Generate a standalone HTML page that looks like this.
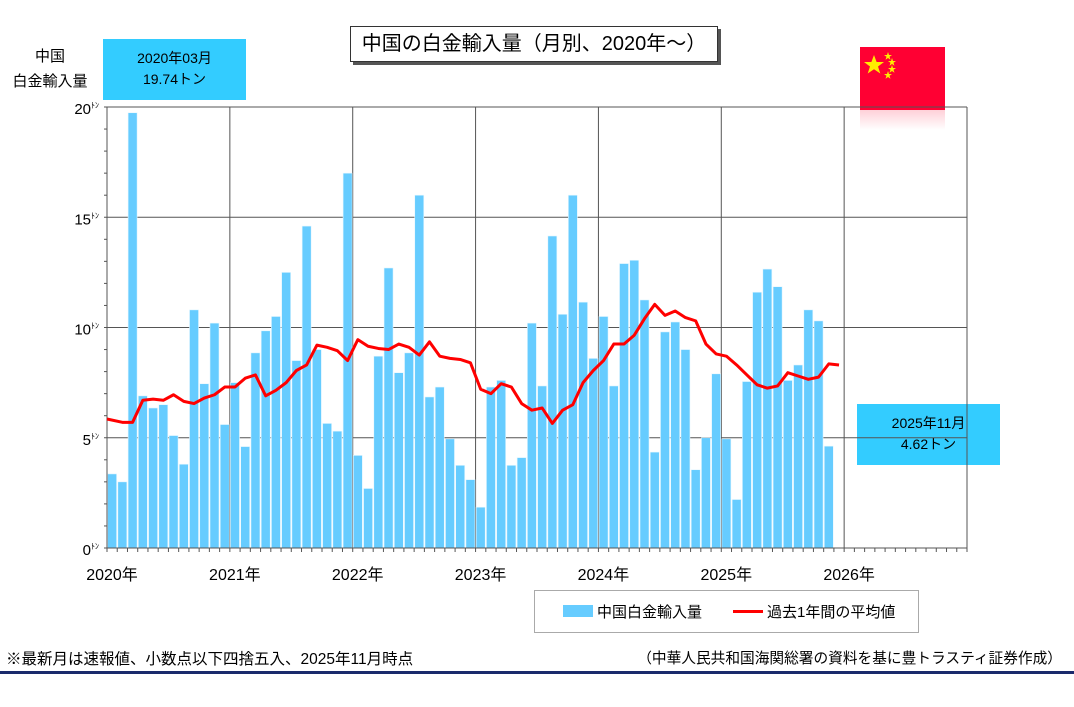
<!DOCTYPE html>
<html><head><meta charset="utf-8"><style>
body{margin:0;background:#fff;font-family:"Liberation Sans","Noto Sans CJK JP",sans-serif;}
#wrap{position:relative;width:1074px;height:707px;overflow:hidden;background:#fff}
.abs{position:absolute}
</style></head><body>
<div id="wrap">
<div class="abs" style="left:350px;top:26px;width:366px;height:34px;border:1px solid #333;box-shadow:3px 3px 0 #555;background:#fff;font-size:20px;line-height:34px;text-align:center;white-space:nowrap;">中国の白金輸入量（月別、2020年～）</div>
<div class="abs" style="left:10px;top:44px;width:80px;font-size:15px;line-height:25px;text-align:center;">中国<br>白金輸入量</div>
<div class="abs" style="left:103px;top:39px;width:143px;height:61px;background:#33ccff;font-size:14px;text-align:center;line-height:21px;padding-top:9px;box-sizing:border-box;">2020年03月<br>19.74トン</div>
<div class="abs" style="left:857px;top:404px;width:143px;height:61px;background:#33ccff;font-size:14px;text-align:center;line-height:21px;padding-top:9px;box-sizing:border-box;">2025年11月<br>4.62トン</div>
<div class="abs" style="left:860px;top:47px;width:85px;height:63px;background:#ff0033;">
<svg width="85" height="63"><polygon points="14,8 16.6,15 24,15 18,19.5 20.3,26.5 14,22.2 7.7,26.5 10,19.5 4,15 11.4,15" fill="#ffee00"/>
<polygon points="28,5 29,8 32,8 29.5,9.8 30.5,12.8 28,11 25.5,12.8 26.5,9.8 24,8 27,8" fill="#ffee00"/>
<polygon points="32,11 33,14 36,14 33.5,15.8 34.5,18.8 32,17 29.5,18.8 30.5,15.8 28,14 31,14" fill="#ffee00"/>
<polygon points="32,18 33,21 36,21 33.5,22.8 34.5,25.8 32,24 29.5,25.8 30.5,22.8 28,21 31,21" fill="#ffee00"/>
<polygon points="28,24 29,27 32,27 29.5,28.8 30.5,31.8 28,30 25.5,31.8 26.5,28.8 24,27 27,27" fill="#ffee00"/></svg></div>
<div class="abs" style="left:860px;top:110px;width:85px;height:20px;background:linear-gradient(#ffd0d8,#fff);"></div>
<svg id="chart" class="abs" style="left:0;top:0" width="1074" height="707"></svg>
<div class="abs" style="left:534px;top:590px;width:383px;height:41px;border:1px solid #aaa;font-size:15px;">
<div class="abs" style="left:28px;top:14px;width:30px;height:12px;background:#66ccff"></div>
<div class="abs" style="left:62px;top:10px;">中国白金輸入量</div>
<div class="abs" style="left:198px;top:19px;width:30px;height:3px;background:#ff0000"></div>
<div class="abs" style="left:232px;top:10px;">過去1年間の平均値</div>
</div>
<div class="abs" style="left:6px;top:647px;font-size:15.5px;white-space:nowrap;">※最新月は速報値、小数点以下四捨五入、2025年11月時点</div>
<div class="abs" style="right:12px;top:647px;font-size:14.7px;white-space:nowrap;">（中華人民共和国海関総署の資料を基に豊トラスティ証券作成）</div>
<div class="abs" style="left:0;top:671px;width:1074px;height:3px;background:#1a2a6c"></div>
</div>
<script>
const years=["2020年","2021年","2022年","2023年","2024年","2025年","2026年"];
const yTicks=[0,5,10,15,20];
const imports=[3.36,3.0,19.74,6.9,6.35,6.5,5.1,3.8,10.8,7.45,10.2,5.6,
7.5,4.6,8.85,9.85,10.5,12.5,8.5,14.6,9.0,5.65,5.3,17.0,
4.2,2.7,8.7,12.7,7.95,8.85,16.0,6.85,7.3,4.95,3.75,3.1,
1.85,7.3,7.6,3.75,4.1,10.2,7.35,14.15,10.6,16.0,11.15,8.6,
10.5,7.35,12.9,13.05,11.25,4.35,9.8,10.25,9.0,3.55,5.0,7.9,
4.95,2.2,7.55,11.6,12.65,11.85,7.6,8.3,10.8,10.3,4.62];
const avg12=[5.85,5.7,5.7,6.7,6.75,6.7,6.95,6.65,6.55,6.8,6.95,7.3,
7.3,7.7,7.85,6.9,7.15,7.5,8.05,8.3,9.2,9.1,8.95,8.5,
9.45,9.15,9.05,9.0,9.25,9.1,8.75,9.35,8.7,8.6,8.55,8.4,
7.2,7.0,7.45,7.3,6.55,6.25,6.35,5.65,6.25,6.5,7.5,8.05,
8.5,9.25,9.25,9.65,10.4,11.05,10.55,10.75,10.45,10.3,9.25,8.8,
8.7,8.3,7.85,7.4,7.25,7.35,7.95,7.8,7.65,7.75,8.35,8.3];
const NS="http://www.w3.org/2000/svg",svg=document.getElementById('chart');
const X0=107,X1=967,Y0=548,Y1=107,MW=(X1-X0)/84;
const xm=i=>X0+i*MW, ys=v=>Y0-(v/20)*(Y0-Y1);
function mk(t,a,p){const e=document.createElementNS(NS,t);for(const k in a)e.setAttribute(k,a[k]);(p||svg).appendChild(e);return e;}
yTicks.forEach(v=>{const l=mk('line',{x1:X0,x2:X1,y1:ys(v),y2:ys(v),stroke:'#555','stroke-width':1});


const t=mk('text',{x:X0-8,y:ys(v)+7,'text-anchor':'end','font-size':15});
t.innerHTML=v+'<tspan font-size="8" dy="-6">ﾄﾝ</tspan>';

});
for(let v=0;v<=20;v++){mk('line',{x1:X0-3,x2:X0,y1:ys(v),y2:ys(v),stroke:'#555'});}
years.forEach((y,i)=>{const x=xm(i*12);
const l=mk('line',{x1:x,x2:x,y1:Y1,y2:Y0,stroke:'#555','stroke-width':1});


const t=mk('text',{x:x+5,y:Y0+32,'text-anchor':'middle','font-size':16});t.textContent=y;

});
mk('line',{x1:X1,x2:X1,y1:Y1,y2:Y0,stroke:'#555'});
for(let i=0;i<=84;i++){mk('line',{x1:xm(i),x2:xm(i),y1:Y0,y2:Y0+4,stroke:'#555'});}
imports.forEach((v,i)=>{const r=mk('rect',{x:xm(i)+0.6,y:ys(v),width:MW-1.2,height:Y0-ys(v),fill:'#66ccff',stroke:'#e6f7ff','stroke-width':0.6});

});
mk('line',{x1:X0,x2:X1,y1:Y0,y2:Y0,stroke:'#555'});
mk('line',{x1:X0,x2:X0,y1:Y1,y2:Y0,stroke:'#555'});
const pts=avg12.map((v,i)=>(i===0?xm(0):xm(i)+MW/2)+','+ys(v)).join(' ');
const pl=mk('polyline',{points:pts,fill:'none',stroke:'#ff0000','stroke-width':3,'stroke-linejoin':'round'});


</script>
</body></html>
